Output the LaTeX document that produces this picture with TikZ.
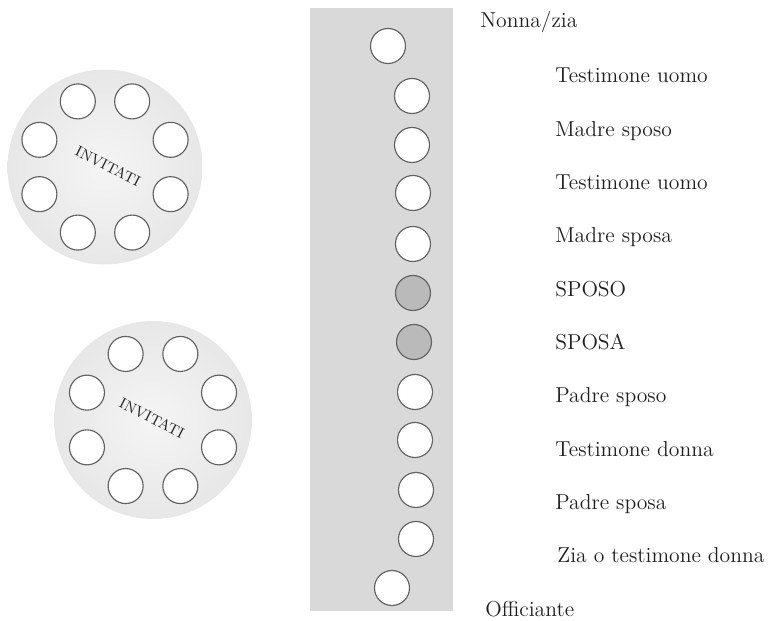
\documentclass[tikz,border=0pt]{standalone}
\pgfdeclareradialshading{softdisk}{\pgfpoint{0bp}{0bp}}{color(0bp)=(black!4); color(28bp)=(black!10); color(42bp)=(black!14); color(47bp)=(black!10); color(50bp)=(white)}

\begin{document}
\begin{tikzpicture}[x=1cm,y=1cm,
  chair/.style={draw=black!62,line width=0.65pt,circle,fill=white,minimum size=0.7cm,inner sep=0pt},
  couple/.style={chair,fill=black!27},
  roundtab/.style={circle,inner sep=0pt,shading=softdisk},
  seatlabel/.style={anchor=base west,inner sep=0pt,text=black!88,font=\fontsize{12.3}{14}\selectfont},
  tablabel/.style={rotate=-27,inner sep=0pt,text=black!85,font=\fontsize{8.5}{10}\selectfont}]
  \useasboundingbox (0,0) rectangle (15.4,-12.42);

  % long table
  \node[fill=black!15,minimum width=2.86cm,minimum height=12.06cm,inner sep=0pt] (strip) at (7.63,-6.19) {};

  % round tables for the guests
  \node[roundtab,minimum size=3.9cm] (tabA) at (2.10,-3.34) {};
  \node[roundtab,minimum size=3.96cm] (tabB) at (3.06,-8.40) {};
  \node[tablabel] (invA) at (2.16,-3.32) {INVITATI};
  \node[tablabel] (invB) at (3.04,-8.36) {INVITATI};
  \foreach \a [count=\i] in {22.5,67.5,...,337.5} {
    \node[chair] (tA\i) at ([shift={(\a:1.42)}]tabA.center) {};
    \node[chair] (tB\i) at ([shift={(\a:1.43)}]tabB.center) {};
  }

  \node[chair] (c1) at (7.76,-0.92) {};
  \node[chair] (c2) at (8.24,-1.92) {};
  \node[chair] (c3) at (8.24,-2.90) {};
  \node[chair] (c4) at (8.26,-3.86) {};
  \node[chair] (c5) at (8.26,-4.88) {};
  \node[couple] (c6) at (8.26,-5.86) {};
  \node[couple] (c7) at (8.28,-6.84) {};
  \node[chair] (c8) at (8.30,-7.84) {};
  \node[chair] (c9) at (8.30,-8.80) {};
  \node[chair] (c10) at (8.32,-9.80) {};
  \node[chair] (c11) at (8.32,-10.78) {};
  \node[chair] (c12) at (7.84,-11.76) {};

  \node[seatlabel] (l1) at (9.60,-0.56) {Nonna/zia};
  \node[seatlabel] (l2) at (11.10,-1.66) {Testimone uomo};
  \node[seatlabel] (l3) at (11.10,-2.74) {Madre sposo};
  \node[seatlabel] (l4) at (11.10,-3.80) {Testimone uomo};
  \node[seatlabel] (l5) at (11.10,-4.86) {Madre sposa};
  \node[seatlabel] (l6) at (11.10,-5.94) {SPOSO};
  \node[seatlabel] (l7) at (11.10,-7.00) {SPOSA};
  \node[seatlabel] (l8) at (11.10,-8.06) {Padre sposo};
  \node[seatlabel] (l9) at (11.10,-9.14) {Testimone donna};
  \node[seatlabel] (l10) at (11.10,-10.20) {Padre sposa};
  \node[seatlabel] (l11) at (11.14,-11.26) {Zia o testimone donna};
  \node[seatlabel] (l12) at (9.70,-12.34) {Officiante};
\end{tikzpicture}
\end{document}
